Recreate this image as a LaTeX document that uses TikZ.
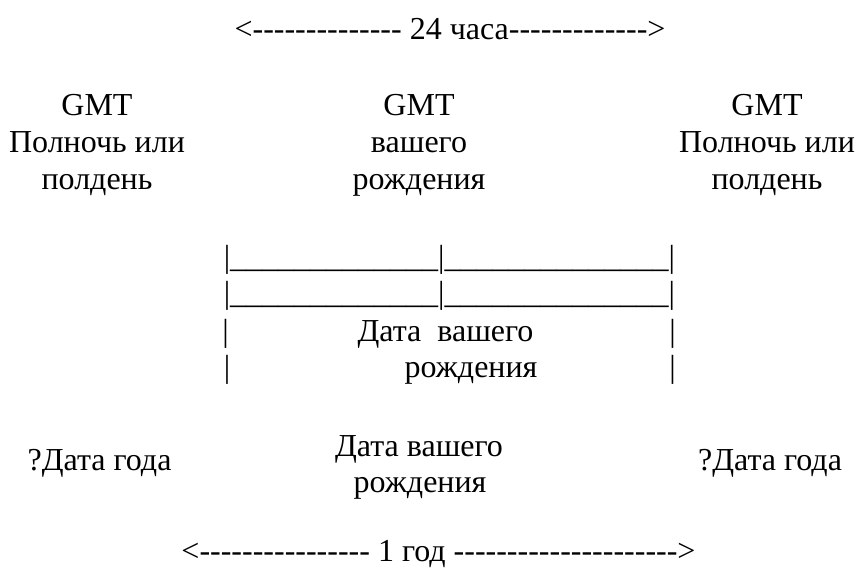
\documentclass[tikz,border=0pt]{standalone}
\usepackage{fontspec}
\setmainfont{Liberation Serif}[Ligatures=TeXOff]
\usepackage{tikz}

\begin{document}
\begin{tikzpicture}[x=0.75pt, y=-0.75pt,
    lbl/.style={font=\fontsize{24pt}{27.6pt}\selectfont, inner sep=0pt, anchor=base},
    rowlbl/.style={lbl, anchor=base west}
  ]
    \useasboundingbox (0,0) rectangle (860,568);
    \node[lbl] (spanT) at (450,39) {<-------------- 24 часа------------->};
    \node[lbl] (gmtL) at (97,115) {GMT};
    \node[lbl] (midnightL) at (97,152) {Полночь или};
    \node[lbl] (noonL) at (97,189) {полдень};
    \node[lbl] (gmtC) at (419,115) {GMT};
    \node[lbl] (yourC) at (419,152) {вашего};
    \node[lbl] (birthC) at (419,189) {рождения};
    \node[lbl] (gmtR) at (767,115) {GMT};
    \node[lbl] (midnightR) at (767,152) {Полночь или};
    \node[lbl] (noonR) at (767,189) {полдень};
    \node[rowlbl] (rowA) at (223.5,267) {|\_\_\_\_\_\_\_\_\_\_\_\_\_|\_\_\_\_\_\_\_\_\_\_\_\_\_\_|};
    \node[rowlbl] (rowB) at (223.5,303) {|\_\_\_\_\_\_\_\_\_\_\_\_\_|\_\_\_\_\_\_\_\_\_\_\_\_\_\_|};
    \node[rowlbl] (barL3) at (222,341) {|};
    \node[lbl] (dateC3) at (445.5,341) {Дата\ \ вашего};
    \node[rowlbl] (barR3) at (669,341) {|};
    \node[rowlbl] (barL4) at (223.5,377) {|};
    \node[lbl] (birthC4) at (471,377) {рождения};
    \node[rowlbl] (barR4) at (669,377) {|};
    \node[lbl] (yearL) at (99.5,470) {?Дата года};
    \node[lbl] (dateB1) at (419,456) {Дата вашего};
    \node[lbl] (dateB2) at (420,492) {рождения};
    \node[lbl] (yearR) at (770,470) {?Дата года};
    \node[lbl] (spanB) at (438.5,561) {<---------------- 1 год --------------------->};
  \end{tikzpicture}
\end{document}
